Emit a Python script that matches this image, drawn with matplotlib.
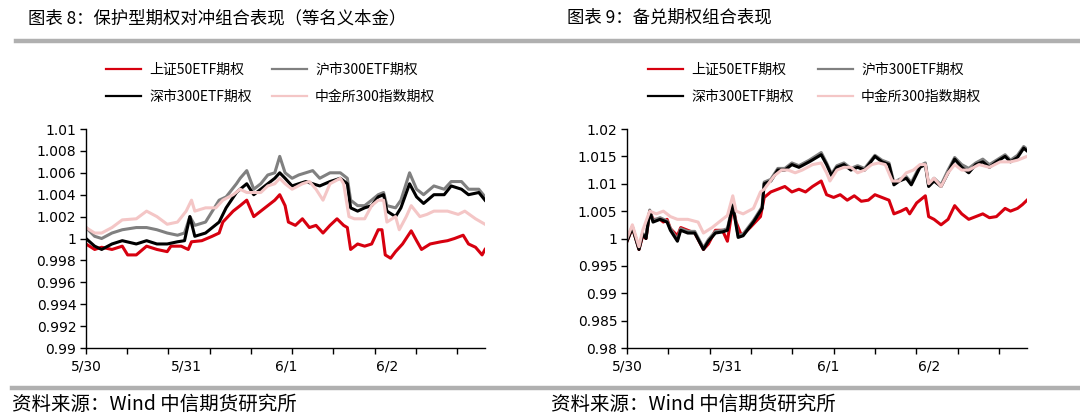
import matplotlib
matplotlib.use("Agg")
import matplotlib.pyplot as plt
from matplotlib.lines import Line2D
from matplotlib.ticker import FuncFormatter

plt.rcParams["font.family"] = ["Noto Sans CJK SC", "DejaVu Sans"]

W, H = 1080, 415

# ---- data: x is the intraday minute index over four trading days ----
day_labels = ["5/30", "5/31", "6/1", "6/2"]
day_pos = [0, 243, 486, 730]
x_max = 968

series_names = ["上证50ETF期权", "沪市300ETF期权", "深市300ETF期权", "中金所300指数期权"]
colors = ["#d7000f", "#808080", "#000000", "#f4c6c6"]

# 图表8 保护型期权对冲组合
hedge_sz50_t = [0, 21, 38, 63, 88, 101, 122, 147, 172, 197, 206, 231, 248, 256, 281, 306, 323, 332, 357, 374,
                390, 407, 424, 441, 458, 470, 483, 491, 508, 525, 542, 558, 575, 592, 609, 625, 634, 642, 659, 676,
                693, 709, 718, 726, 739, 751, 768, 789, 802, 814, 835, 861, 877, 894, 915, 928, 945, 961, 968]
hedge_sz50 = [0.9995, 0.999, 0.9992, 0.999, 0.9993, 0.9985, 0.9985, 0.9993, 0.999, 0.9988,
              0.9993, 0.9993, 0.999, 0.9997, 0.9998, 1.0002, 1.0005, 1.0015, 1.0025, 1.003,
              1.0035, 1.002, 1.0025, 1.003, 1.0035, 1.004, 1.003, 1.0015, 1.0012, 1.0018,
              1.001, 1.0012, 1.0005, 1.0012, 1.0018, 1.0012, 1.001, 0.999, 0.9995, 0.9993,
              0.9995, 1.0008, 1.0008, 0.9985, 0.9982, 0.9988, 0.9995, 1.0007, 0.9998, 0.999,
              0.9995, 0.9997, 0.9998, 1.0, 1.0003, 0.9995, 0.9992, 0.9985, 0.999]

hedge_300_t = [0, 21, 38, 63, 88, 122, 147, 172, 197, 222, 239, 252, 264, 290, 323, 340, 365, 374, 390, 407,
               424, 441, 458, 470, 483, 500, 516, 533, 550, 567, 592, 617, 634, 642, 659, 676, 693, 709, 722, 730,
               751, 764, 785, 802, 819, 844, 869, 886, 911, 928, 953, 968]
hedge_sh300 = [1.001, 1.0002, 1.0, 1.0005, 1.0008, 1.001, 1.001, 1.0008, 1.0005, 1.0003,
               1.0005, 1.002, 1.0012, 1.0015, 1.0035, 1.0038, 1.005, 1.0055, 1.0062, 1.0045,
               1.005, 1.0058, 1.006, 1.0075, 1.006, 1.0055, 1.0058, 1.006, 1.0062, 1.0055,
               1.006, 1.006, 1.0055, 1.0035, 1.003, 1.003, 1.0035, 1.004, 1.0042, 1.003,
               1.0028, 1.0035, 1.006, 1.0045, 1.004, 1.0048, 1.0045, 1.0052, 1.0052, 1.0045,
               1.0045, 1.0038]
hedge_sz300 = [1.0, 0.9993, 0.999, 0.9995, 0.9998, 0.9995, 0.9998, 0.9995, 0.9995, 0.9997,
               0.9998, 1.002, 1.0002, 1.0005, 1.0015, 1.0028, 1.0042, 1.0045, 1.005, 1.004,
               1.0045, 1.005, 1.0055, 1.006, 1.0055, 1.0048, 1.005, 1.0052, 1.005, 1.0048,
               1.0052, 1.0055, 1.005, 1.0028, 1.0025, 1.0028, 1.003, 1.0038, 1.004, 1.0025,
               1.002, 1.0028, 1.005, 1.0038, 1.0032, 1.004, 1.004, 1.0048, 1.0045, 1.004,
               1.0042, 1.0035]

hedge_cffex_t = [0, 21, 38, 63, 88, 122, 147, 172, 197, 222, 243, 256, 264, 290, 315, 332, 357, 374, 390, 407,
                 424, 441, 458, 470, 483, 500, 525, 542, 558, 575, 592, 617, 625, 638, 651, 676, 693, 709, 722, 730,
                 751, 760, 777, 789, 810, 827, 844, 877, 903, 919, 945, 968]
hedge_cffex = [1.001, 1.0005, 1.0005, 1.001, 1.0017, 1.0018, 1.0025, 1.002, 1.0013, 1.0015,
               1.0025, 1.0035, 1.0025, 1.0028, 1.0028, 1.0035, 1.004, 1.0045, 1.0042, 1.0042,
               1.0042, 1.0048, 1.005, 1.0055, 1.005, 1.0045, 1.005, 1.0052, 1.0045, 1.0035,
               1.005, 1.0055, 1.005, 1.002, 1.0018, 1.0018, 1.003, 1.0035, 1.0035, 1.0015,
               1.002, 1.0008, 1.002, 1.003, 1.002, 1.0022, 1.0025, 1.0025, 1.0022, 1.0025,
               1.0018, 1.0013]

# 图表9 备兑期权组合
cover_sz50_t = [0, 8, 13, 29, 38, 46, 55, 63, 80, 88, 97, 105, 122, 130, 147, 164, 185, 197, 214, 231,
                243, 256, 264, 277, 298, 323, 332, 348, 365, 382, 399, 416, 432, 449, 470, 483, 500, 516, 533, 550,
                567, 584, 600, 617, 634, 646, 663, 676, 684, 701, 722, 730, 743, 760, 777, 793, 810, 827, 844, 861,
                877, 894, 915, 928, 945, 957, 968]
cover_sz50 = [0.9995, 1.001, 1.002, 0.998, 1.0005, 1.0, 1.005, 1.0035, 1.0035, 1.003,
              1.0035, 1.0018, 1.0005, 1.002, 1.0015, 1.001, 0.998, 0.999, 1.0015, 1.0015,
              0.9995, 1.006, 1.003, 1.0005, 1.002, 1.004, 1.0075, 1.0085, 1.009, 1.0095,
              1.0085, 1.009, 1.0085, 1.0095, 1.0105, 1.008, 1.0075, 1.008, 1.007, 1.0078,
              1.0068, 1.007, 1.008, 1.0075, 1.007, 1.0045, 1.005, 1.0055, 1.0045, 1.0065,
              1.0078, 1.004, 1.0035, 1.0025, 1.0035, 1.006, 1.0045, 1.0035, 1.004, 1.0045,
              1.0038, 1.004, 1.0055, 1.005, 1.0055, 1.0062, 1.007]

cover_300_t = [0, 13, 29, 38, 46, 55, 63, 80, 97, 105, 122, 130, 147, 164, 185, 197, 214, 231, 243, 256,
               269, 281, 306, 327, 332, 348, 365, 382, 399, 416, 441, 470, 483, 495, 508, 525, 542, 558, 575, 600,
               617, 634, 646, 659, 676, 688, 709, 722, 730, 743, 760, 777, 793, 810, 827, 844, 861, 877, 894, 915,
               928, 945, 960, 968]
cover_sh300 = [1.0, 1.0022, 0.9982, 1.001, 1.0002, 1.0052, 1.0033, 1.0038, 1.0032, 1.0018,
               0.9998, 1.0018, 1.0013, 1.0013, 0.9983, 0.9998, 1.0013, 1.0015, 1.0018, 1.0062,
               1.0005, 1.0008, 1.0033, 1.0058, 1.0103, 1.0108, 1.0128, 1.0128, 1.0138, 1.0133,
               1.0143, 1.0157, 1.0138, 1.0118, 1.0133, 1.0138, 1.0128, 1.0133, 1.0128, 1.0152,
               1.0143, 1.0138, 1.0102, 1.0108, 1.0113, 1.0102, 1.0133, 1.0138, 1.0098, 1.011,
               1.0098, 1.0125, 1.0148, 1.0135, 1.0128, 1.0138, 1.0145, 1.0135, 1.0143, 1.0153,
               1.0143, 1.0152, 1.0168, 1.0163]
cover_sz300 = [0.9995, 1.002, 0.998, 1.0008, 1.0, 1.005, 1.003, 1.0035, 1.003, 1.0015,
               0.9995, 1.0015, 1.001, 1.001, 0.998, 0.9995, 1.001, 1.0012, 1.0015, 1.006,
               1.0002, 1.0005, 1.003, 1.0055, 1.01, 1.0105, 1.0125, 1.0125, 1.0135, 1.013,
               1.014, 1.0153, 1.0135, 1.0115, 1.013, 1.0135, 1.0125, 1.013, 1.0125, 1.015,
               1.014, 1.0135, 1.0098, 1.0105, 1.011, 1.0098, 1.013, 1.0135, 1.0095, 1.0105,
               1.0095, 1.012, 1.0145, 1.013, 1.012, 1.0135, 1.014, 1.013, 1.014, 1.015,
               1.014, 1.0148, 1.0165, 1.016]

cover_cffex_t = [0, 13, 29, 38, 55, 71, 88, 105, 122, 147, 172, 185, 206, 231, 243, 256, 264, 281, 306, 323,
                 332, 357, 374, 390, 407, 424, 449, 470, 483, 491, 508, 525, 542, 558, 575, 592, 609, 625, 642, 659,
                 676, 693, 709, 722, 730, 743, 760, 777, 793, 810, 827, 852, 877, 903, 928, 945, 968]
cover_cffex = [1.0, 1.0025, 0.9985, 1.0015, 1.005, 1.0045, 1.005, 1.004, 1.0035, 1.0035,
               1.003, 1.001, 1.002, 1.0035, 1.0042, 1.0078, 1.005, 1.0045, 1.0055, 1.0085,
               1.009, 1.0115, 1.0125, 1.0125, 1.012, 1.0125, 1.0135, 1.0138, 1.012, 1.0105,
               1.0125, 1.013, 1.013, 1.012, 1.0125, 1.0135, 1.0138, 1.0135, 1.0105, 1.0105,
               1.012, 1.0125, 1.0135, 1.0135, 1.01, 1.011, 1.0095, 1.012, 1.0135, 1.0125,
               1.0125, 1.0135, 1.013, 1.014, 1.014, 1.0143, 1.015]

hedge_yticks = [0.99, 0.992, 0.994, 0.996, 0.998, 1.0, 1.002, 1.004, 1.006, 1.008, 1.01]
cover_yticks = [0.98, 0.985, 0.99, 0.995, 1.0, 1.005, 1.01, 1.015, 1.02]

charts = [
    dict(title="图表 8：保护型期权对冲组合表现（等名义本金）", x0=86, x1=485, tx=28, lx=(106, 272),
         lines=[(hedge_sz50_t, hedge_sz50), (hedge_300_t, hedge_sh300),
                (hedge_300_t, hedge_sz300), (hedge_cffex_t, hedge_cffex)],
         yticks=hedge_yticks),
    dict(title="图表 9：备兑期权组合表现", x0=627, x1=1027, tx=567, lx=(648, 818),
         lines=[(cover_sz50_t, cover_sz50), (cover_300_t, cover_sh300),
                (cover_300_t, cover_sz300), (cover_cffex_t, cover_cffex)],
         yticks=cover_yticks),
]

fig = plt.figure(figsize=(W / 100, H / 100), dpi=100)

# header / footer rules
fig.add_artist(Line2D([16 / W, 1], [1 - 41.5 / H] * 2, color="#b0b0b0", lw=3.2))
fig.add_artist(Line2D([12 / W, 1], [1 - 388 / H] * 2, color="#b0b0b0", lw=3.2))

fmt = FuncFormatter(lambda v, p: f"{v:g}")

for c in charts:
    ax = fig.add_axes([c["x0"] / W, 1 - 348 / H, (c["x1"] - c["x0"]) / W, 219 / H])
    handles = []
    for (t, v), col, name in zip(c["lines"], colors, series_names):
        ax.plot(t, v, color=col, lw=2.2, solid_joinstyle="round")
        handles.append(Line2D([], [], color=col, lw=1.6, label=name))

    ax.set_xlim(0, x_max)
    ax.set_ylim(c["yticks"][0], c["yticks"][-1])
    ax.set_yticks(c["yticks"])
    ax.yaxis.set_major_formatter(fmt)
    ax.xaxis.remove_overlapping_locs = False
    ax.set_xticks(range(0, x_max, 100))
    ax.set_xticklabels([])
    ax.set_xticks(day_pos, day_labels, minor=True)
    ax.tick_params(axis="x", which="minor", length=0, pad=8, labelsize=10)
    ax.tick_params(axis="x", which="major", length=4, width=1, direction="out")
    ax.tick_params(axis="y", length=4, width=1, direction="out", pad=3, labelsize=10)
    for lab in ax.get_yticklabels() + ax.get_xticklabels(minor=True):
        lab.set_family("DejaVu Sans")
    for s in ("top", "right"):
        ax.spines[s].set_visible(False)
    for s in ("left", "bottom"):
        ax.spines[s].set_linewidth(1.0)

    # title
    fig.text(c["tx"] / W, 1 - 18 / H, c["title"], fontsize=12.5, va="center", ha="left")
    # legend, two columns placed separately
    for k, lx in enumerate(c["lx"]):
        fig.legend(handles=[handles[k], handles[k + 2]], loc="upper left",
                   bbox_to_anchor=(lx / W, 1 - 63 / H), frameon=False, fontsize=10,
                   borderpad=0, borderaxespad=0, handlelength=2.5, handletextpad=0.6,
                   labelspacing=0.95)
    # source
    fig.text((c["tx"] - 16) / W, 1 - 404 / H, "资料来源：Wind 中信期货研究所",
             fontsize=14, va="center", ha="left")

fig.savefig("out.png", dpi=100)
